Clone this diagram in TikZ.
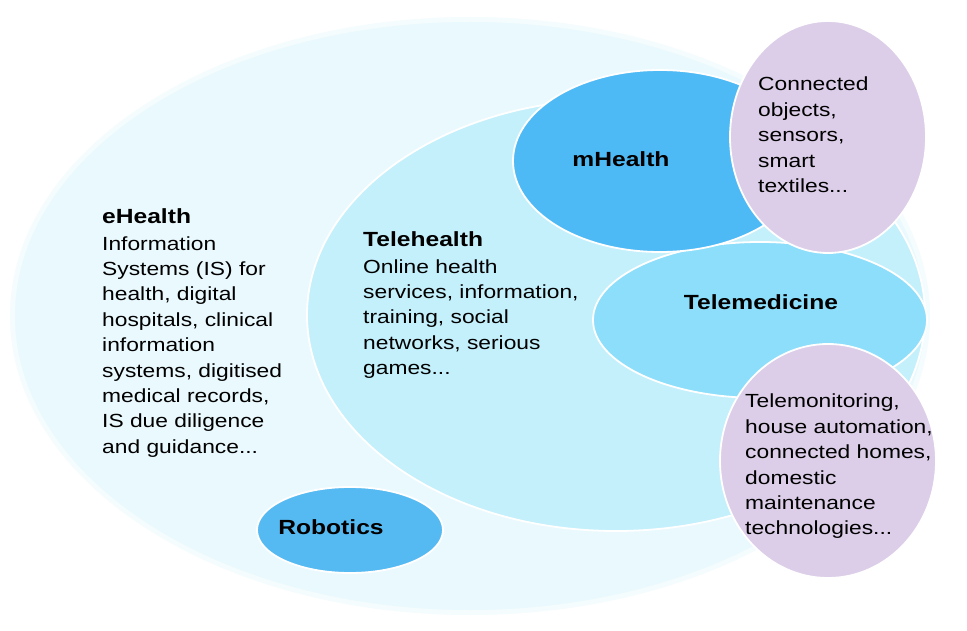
\documentclass[tikz,border=0pt]{standalone}
\usepackage{fontspec}
\newfontfamily\venntext{Liberation Sans}[FakeStretch=1.2]
\definecolor{ehealthglow}{HTML}{F4FCFE}
\definecolor{ehealthfill}{HTML}{EAF9FD}
\definecolor{telehealthfill}{HTML}{C4F0FC}
\definecolor{mhealthfill}{HTML}{4EBAF5}
\definecolor{telemedfill}{HTML}{8CDEFA}
\definecolor{robofill}{HTML}{55B9F2}
\definecolor{lilacfill}{HTML}{DCCEE8}
\tikzset{
  bubble/.style={draw=white, line width=1.8pt},
  blocktext/.style={anchor=north west, inner sep=0pt, align=left,
    font=\venntext\fontsize{19}{25.4}\selectfont},
  ovallabel/.style={anchor=base, inner sep=0pt,
    font=\venntext\bfseries\fontsize{20.5}{24}\selectfont}
}
\newcommand{\blockhead}[1]{{\bfseries\fontsize{20.5}{25.4}\selectfont #1}}
\begin{document}
\begin{tikzpicture}[x=1pt,y=-1pt]
  \useasboundingbox[fill=white] (0,0) rectangle (967,631);
  % eHealth: large pale oval behind everything
  \fill[ehealthglow] (470,316) ellipse [x radius=460, y radius=299];
  \fill[ehealthfill] (470,316) ellipse [x radius=455, y radius=294];
  % Telehealth oval inside it
  \fill[telehealthfill, bubble] (616,315) ellipse [x radius=309, y radius=216];
  % Robotics, small oval at the bottom
  \fill[robofill, bubble] (350,530) ellipse [x radius=93, y radius=43];
  % Telemedicine and mHealth on the right
  \fill[telemedfill, bubble] (760,320) ellipse [x radius=167, y radius=78];
  \fill[mhealthfill, bubble] (660,161) ellipse [x radius=147, y radius=91];
  % lilac ovals on top
  \fill[lilacfill, bubble] (828,137) ellipse [x radius=98, y radius=116];
  \fill[lilacfill, bubble] (828,461) ellipse [x radius=108, y radius=117];

  % text blocks
  \node[blocktext] (ehealthtxt) at (102,208) {\blockhead{eHealth}\\[1.6pt]
    Information\\ Systems (IS) for\\ health, digital\\ hospitals, clinical\\
    information\\ systems, digitised\\ medical records,\\ IS due diligence\\
    and guidance...};
  \node[blocktext] (telehealthtxt) at (363,231) {\blockhead{Telehealth}\\[1.6pt]
    Online health\\ services, information,\\ training, social\\
    networks, serious\\ games...};
  \node[blocktext] (objectstxt) at (758,77)
    {Connected\\ objects,\\ sensors,\\ smart\\ textiles...};
  \node[blocktext] (hometxt) at (745,394)
    {Telemonitoring,\\ house automation,\\ connected homes,\\ domestic\\
    maintenance\\ technologies...};

  % oval labels
  \node[ovallabel] (mhealth) at (621,167) {mHealth};
  \node[ovallabel] (telemed) at (761,309) {Telemedicine};
  \node[ovallabel] (robotics) at (331,534) {Robotics};
\end{tikzpicture}
\end{document}
